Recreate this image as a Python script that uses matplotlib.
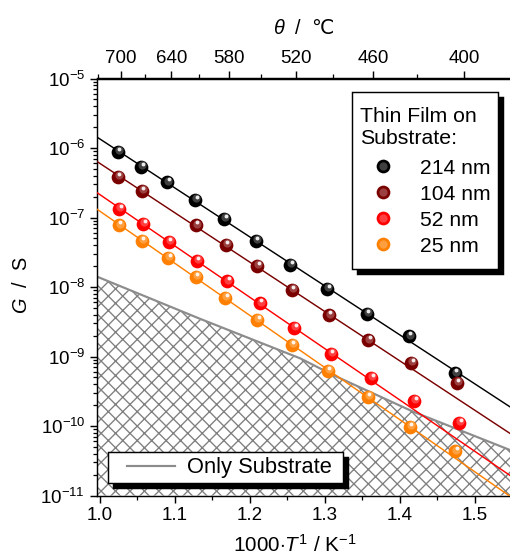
import numpy as np
import matplotlib
matplotlib.use('Agg')
import matplotlib.pyplot as plt
from matplotlib.lines import Line2D
from matplotlib.legend_handler import HandlerTuple, HandlerLine2D
from matplotlib.offsetbox import DrawingArea
from matplotlib.transforms import offset_copy
from matplotlib.ticker import MultipleLocator, FixedLocator, LogLocator, NullFormatter

plt.rcParams['font.family'] = ['Liberation Sans', 'DejaVu Sans']
plt.rcParams['mathtext.fontset'] = 'custom'
plt.rcParams['mathtext.rm'] = 'Liberation Sans'
plt.rcParams['mathtext.it'] = 'Liberation Sans:italic'
plt.rcParams['mathtext.sf'] = 'DejaVu Sans'
plt.rcParams['hatch.linewidth'] = 0.75

# measured conductance of the films, x = 1000/T in 1/K, G in S
x_214 = [1.024, 1.055, 1.090, 1.127, 1.166, 1.208, 1.254, 1.303, 1.356, 1.412, 1.473]
G_214 = [8.7e-7, 5.4e-7, 3.2e-7, 1.8e-7, 9.5e-8, 4.6e-8, 2.1e-8, 9.3e-9, 4.1e-9, 1.95e-9, 5.7e-10]
x_104 = [1.024, 1.056, 1.128, 1.168, 1.210, 1.256, 1.305, 1.358, 1.415, 1.476]
G_104 = [3.8e-7, 2.4e-7, 7.7e-8, 4.0e-8, 2.0e-8, 9.0e-9, 3.9e-9, 1.7e-9, 8.1e-10, 4.2e-10]
x_52 = [1.026, 1.058, 1.092, 1.129, 1.170, 1.213, 1.259, 1.308, 1.362, 1.419, 1.479]
G_52 = [1.34e-7, 8.0e-8, 4.4e-8, 2.4e-8, 1.2e-8, 5.8e-9, 2.6e-9, 1.1e-9, 4.9e-10, 2.3e-10, 1.1e-10]
x_25 = [1.025, 1.056, 1.091, 1.128, 1.167, 1.210, 1.256, 1.304, 1.357, 1.413, 1.474]
G_25 = [7.7e-8, 4.6e-8, 2.6e-8, 1.4e-8, 6.9e-9, 3.4e-9, 1.46e-9, 6.2e-10, 2.6e-10, 9.8e-11, 4.3e-11]

# number of points (from the hot end) used for each Arrhenius fit
n_fit = [11, 8, 8, 10]

labels = ['214 nm', '104 nm', '52 nm', '25 nm']
colors = ['#000000', '#7a0000', '#ff0000', '#ff8000']

# bare substrate
x_sub = [0.996, 1.133, 1.267, 1.311, 1.418, 1.547]
G_sub = [1.41e-8, 3.5e-9, 9.4e-10, 5.4e-10, 1.6e-10, 4.5e-11]

theta_major = [700, 640, 580, 520, 460, 400]
theta_minor = [730, 670, 610, 550, 490, 430]

xmin, xmax = 0.996, 1.5467
ymin, ymax = 1e-11, 1e-5

dpi = 130
fig = plt.figure(figsize=(510 / dpi, 557 / dpi), dpi=dpi)
ax = fig.add_axes([97 / 510, 61.5 / 557, 413 / 510, 417 / 557])
ax.set_xlim(xmin, xmax)
ax.set_yscale('log')
ax.set_ylim(ymin, ymax)

# substrate region
ax.fill_between(x_sub, G_sub, ymin, facecolor='none', edgecolor='#808080',
                hatch='xxx', linewidth=0, zorder=1)
sub_line, = ax.plot(x_sub, G_sub, color='#8c8c8c', lw=1.2, zorder=2)

hl = offset_copy(ax.transData, fig=fig, x=1.5, y=3.0, units='dots')
mid = offset_copy(ax.transData, fig=fig, x=0.8, y=1.8, units='dots')
ms = 7.6
handles = []
xs_all = [x_214, x_104, x_52, x_25]
Gs_all = [G_214, G_104, G_52, G_25]
for xs, Gs, c, n in zip(xs_all, Gs_all, colors, n_fit):
    xs = np.array(xs)
    lg = np.log10(Gs)
    p = np.polyfit(xs[:n], lg[:n], 1)
    xf = np.array([xmin, xmax])
    ax.plot(xf, 10 ** np.polyval(p, xf), color=c, lw=0.8, zorder=3)
    ax.plot(xs, Gs, 'o', color=c, ms=ms, mew=0, zorder=4)
    ax.plot(xs, Gs, 'o', color='white', alpha=0.25, ms=ms * 0.6, mew=0,
            transform=mid, zorder=5)
    ax.plot(xs, Gs, 'o', color='white', alpha=0.9, ms=ms * 0.28, mew=0,
            transform=hl, zorder=6)
    h1 = Line2D([], [], marker='o', ls='none', color=c, ms=ms, mew=0)
    h2 = Line2D([], [], marker='o', ls='none', color='white', alpha=0.25,
                ms=ms * 0.6, mew=0)
    handles.append((h1, h2))

# ticks
ax.xaxis.set_major_locator(MultipleLocator(0.1))
ax.xaxis.set_minor_locator(MultipleLocator(0.05))
ax.xaxis.set_major_formatter(matplotlib.ticker.FormatStrFormatter('%.1f'))
ax.yaxis.set_major_locator(LogLocator(base=10, numticks=10))
ax.yaxis.set_minor_locator(LogLocator(base=10, subs=np.arange(2, 10), numticks=20))
ax.yaxis.set_minor_formatter(NullFormatter())
ax.tick_params(which='major', direction='out', length=4, width=0.8,
               labelsize=10.4, pad=2.5)
ax.tick_params(which='minor', direction='out', length=2, width=0.7)
ax.tick_params(top=False, right=False)
for s in ['left', 'bottom']:
    ax.spines[s].set_linewidth(0.8)
ax.spines['right'].set_visible(False)
ax.spines['top'].set_linewidth(0.8)

ax.set_ylabel('$G$  /  S', fontsize=11)
ax.yaxis.set_label_coords(-0.16, 0.505)
ax.set_xlabel('1000$\\cdot$$T^{1}$ / K$^{-1}$', fontsize=11.5)
ax.xaxis.set_label_coords(0.478, -0.092)

# top axis in degrees Celsius
secax = ax.secondary_xaxis('top', functions=(lambda x: 1000.0 / x - 273.15,
                                             lambda t: 1000.0 / (t + 273.15)))
secax.xaxis.set_major_locator(FixedLocator(theta_major))
secax.xaxis.set_minor_locator(FixedLocator(theta_minor))
secax.tick_params(which='major', direction='out', length=4, width=0.8,
                  labelsize=10.4, pad=2.5)
secax.tick_params(which='minor', direction='out', length=2, width=0.7)
secax.spines['top'].set_linewidth(0.8)
secax.set_xlabel('$\\theta$  /  $\\mathsf{\u2103}$', fontsize=11, labelpad=9)

leg1 = ax.legend(handles, labels, title='Thin Film on\nSubstrate:',
                 handler_map={tuple: HandlerTuple(ndivide=1)},
                 loc='upper right', bbox_to_anchor=((498 - 97) / 413, (495.5 - 92) / 417),
                 borderaxespad=0, fontsize=11.7, title_fontsize=11.8, alignment='left',
                 handlelength=2.22, handletextpad=0.62, labelspacing=0.33,
                 borderpad=0.36, fancybox=False, framealpha=1, edgecolor='black',
                 shadow={'ox': 2.8, 'oy': -2.8, 'color': 'black', 'alpha': 1})
leg1.get_frame().set_linewidth(0.8)
# a little extra room above the title and below the last entry
leg1._legend_box.sep = 6
leg1._legend_box._children.insert(0, DrawingArea(0, -2))
leg1._legend_box._children.append(DrawingArea(0, -3))
ax.add_artist(leg1)

leg2 = ax.legend([sub_line], ['Only Substrate '],
                 handler_map={Line2D: HandlerLine2D(numpoints=2, marker_pad=0.65)},
                 loc='lower left', bbox_to_anchor=((108 - 97) / 413, (495.5 - 483) / 417),
                 borderaxespad=0, fontsize=12.1, handlelength=3.5,
                 handletextpad=-0.11, borderpad=0.22, fancybox=False, framealpha=1,
                 edgecolor='black',
                 shadow={'ox': 2.8, 'oy': -2.8, 'color': 'black', 'alpha': 1})
leg2.get_frame().set_linewidth(0.8)

fig.savefig('out.png', dpi=dpi)
